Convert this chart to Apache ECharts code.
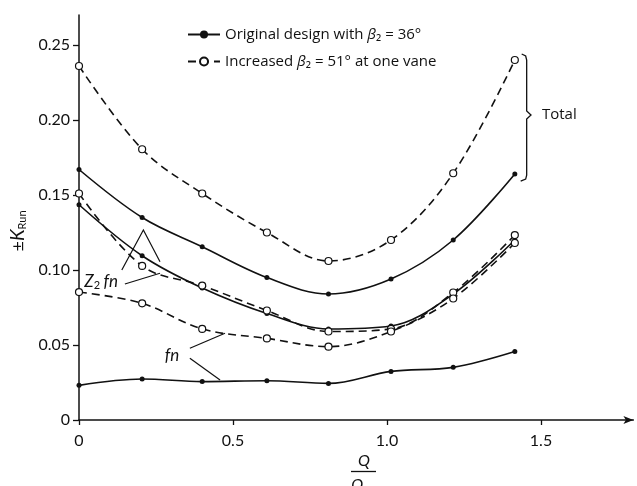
<!DOCTYPE html>
<html><head><meta charset="utf-8">
<script src="https://cdn.jsdelivr.net/npm/echarts@6/dist/echarts.min.js"></script>
<style>html,body{margin:0;padding:0;background:#fff}#c{width:637px;height:486px}</style>
</head><body><div id="c"></div>
<script>
// ---- data ----
const flowRatio      = [0, 0.205, 0.40, 0.61, 0.81, 1.013, 1.215, 1.415];
const totalOriginal  = [0.167, 0.135, 0.1155, 0.095, 0.084, 0.094, 0.120, 0.164];
const totalIncreased = [0.236, 0.1805, 0.151, 0.125, 0.106, 0.120, 0.1645, 0.240];
const z2fnOriginal   = [0.1435, 0.1095, 0.088, 0.071, 0.0607, 0.0627, 0.084, 0.120];
const z2fnIncreased  = [0.151, 0.1027, 0.0896, 0.073, 0.059, 0.0607, 0.085, 0.1233];
const fnOriginal     = [0.0231, 0.0273, 0.0256, 0.0262, 0.0244, 0.0324, 0.0351, 0.0456];
const fnIncreased    = [0.0853, 0.0778, 0.0607, 0.0544, 0.0489, 0.059, 0.081, 0.118];
const xTicks = [0, 0.5, 1.0, 1.5];
const yTicks = [0, 0.05, 0.10, 0.15, 0.20, 0.25];
const nameOriginal  = 'Original design with β₂ = 36°';
const nameIncreased = 'Increased β₂ = 51° at one vane';

const FONT = 'Lato';
const LFONT = 'Open Sans';
const INK = '#111';
const chart = echarts.init(document.getElementById('c'), null, {renderer: 'canvas'});

function mk(name, vals, dashed) {
  return {
    type: 'line', name: name,
    data: flowRatio.map((x, i) => [x, vals[i]]),
    smooth: 0.35,
    symbol: 'circle',
    symbolSize: dashed ? 7 : 5,
    showSymbol: true,
    lineStyle: {color: INK, width: 1.6, type: dashed ? [8, 5] : 'solid'},
    itemStyle: {color: dashed ? '#fff' : INK, borderColor: INK, borderWidth: dashed ? 1.2 : 0},
    emphasis: {disabled: true},
    z: dashed ? 3 : 2
  };
}

const legendFmt = n => n === nameOriginal
  ? '{n|Original design with }{i|β}{n|₂ = 36°}'
  : '{n|Increased }{i|β}{n|₂ = 51° at one vane}';

chart.setOption({
  animation: false,
  backgroundColor: '#fff',
  grid: {left: 79, right: 3.6, top: 15, bottom: 66, containLabel: false},
  legend: {
    data: [nameOriginal, nameIncreased],
    orient: 'vertical', left: 182, top: 22,
    itemWidth: 32, itemHeight: 10, itemGap: 12,
    selectedMode: false,
    formatter: legendFmt,
    textStyle: {
      color: INK, fontFamily: LFONT, fontSize: 15,
      rich: {
        n: {fontFamily: LFONT, fontSize: 15, color: INK},
        i: {fontFamily: LFONT, fontSize: 15, fontStyle: 'italic', color: INK}
      }
    }
  },
  xAxis: {
    type: 'value', min: 0, max: 1.8, interval: 0.5,
    axisLine: {lineStyle: {color: INK, width: 1.5}, symbol: ['none', 'arrow'], symbolSize: [6, 10]},
    axisTick: {length: 5, lineStyle: {color: INK, width: 1.3}, customValues: xTicks},
    axisLabel: {customValues: xTicks, margin: 13, color: INK, fontFamily: FONT, fontSize: 16,
      formatter: v => v === 0 ? '0' : v.toFixed(1)},
    splitLine: {show: false}
  },
  yAxis: {
    type: 'value', min: 0, max: 0.27, interval: 0.05,
    axisLine: {show: true, lineStyle: {color: INK, width: 1.5}},
    axisTick: {show: true, length: 6, lineStyle: {color: INK, width: 1.3}, customValues: yTicks},
    axisLabel: {customValues: yTicks, margin: 9, color: INK, fontFamily: FONT, fontSize: 16,
      formatter: v => v === 0 ? '0' : v.toFixed(2)},
    splitLine: {show: false}
  },
  series: [
    mk(nameOriginal, totalOriginal, false),
    mk(nameIncreased, totalIncreased, true),
    mk(nameOriginal, z2fnOriginal, false),
    mk(nameIncreased, z2fnIncreased, true),
    mk(nameOriginal, fnOriginal, false),
    mk(nameIncreased, fnIncreased, true)
  ]
});

// ---- annotations positioned in data coordinates ----
const P = (x, y) => chart.convertToPixel({gridIndex: 0}, [x, y]);
const lineEl = pts => ({type: 'polyline', shape: {points: pts.map(p => P(p[0], p[1]))},
  style: {stroke: INK, lineWidth: 1.2, fill: null}, silent: true});
const z2Lab = P(0.072, 0.092);
const fnLab = P(0.302, 0.0433);
const totLab = P(1.503, 0.2033);
const xb = P(1.4535, 0)[0], tip = P(1.4675, 0.2033);
const yTop = P(0, 0.242)[1], yBot = P(0, 0.1613)[1];
const brace = [[xb - 5, yTop - 3], [xb - 1, yTop - 1], [xb, yTop + 3], [xb, tip[1] - 4], [tip[0], tip[1]],
  [xb, tip[1] + 4], [xb, yBot - 3], [xb - 1, yBot + 1], [xb - 6, yBot + 3]];

chart.setOption({
  graphic: [
    lineEl([[0.139, 0.100], [0.209, 0.1267], [0.263, 0.1055]]),
    lineEl([[0.149, 0.0907], [0.263, 0.0978]]),
    lineEl([[0.360, 0.0478], [0.474, 0.0578]]),
    lineEl([[0.360, 0.0411], [0.458, 0.0267]]),
    {type: 'polyline', shape: {points: brace}, style: {stroke: INK, lineWidth: 1.3, fill: null}, silent: true},
    {type: 'text', x: z2Lab[0], y: z2Lab[1], silent: true,
      style: {text: '{i|Z}{s|2} {i|fn}', align: 'center', verticalAlign: 'middle',
        rich: {i: {fontFamily: FONT, fontSize: 17, fontStyle: 'italic', fill: INK, lineHeight: 18},
               s: {fontFamily: FONT, fontSize: 11, fill: INK, lineHeight: 10, verticalAlign: 'bottom'}}}},
    {type: 'text', x: fnLab[0], y: fnLab[1], silent: true,
      style: {text: 'fn', font: 'italic 17px ' + FONT, fill: INK, align: 'center', verticalAlign: 'middle'}},
    {type: 'text', x: totLab[0], y: totLab[1], silent: true,
      style: {text: 'Total', font: '15px ' + LFONT, fill: INK, align: 'left', verticalAlign: 'middle'}},
    {type: 'text', x: 18, y: 231, rotation: Math.PI / 2, silent: true,
      style: {text: '{n|±}{i|K}{s|Run}', align: 'center', verticalAlign: 'middle',
        rich: {n: {fontFamily: FONT, fontSize: 18, fill: INK, lineHeight: 20},
               i: {fontFamily: FONT, fontSize: 19, fontStyle: 'italic', fill: INK, lineHeight: 20},
               s: {fontFamily: FONT, fontSize: 11, fill: INK, lineHeight: 11, verticalAlign: 'bottom'}}}},
    {type: 'text', x: 364, y: 461, silent: true,
      style: {text: 'Q', font: 'italic 16px ' + FONT, fill: INK, align: 'center', verticalAlign: 'middle'}},
    {type: 'line', shape: {x1: 351, y1: 471.5, x2: 376, y2: 471.5}, style: {stroke: INK, lineWidth: 1.3}, silent: true},
    {type: 'text', x: 363, y: 476, silent: true,
      style: {text: '{i|Q}{s|oo}', align: 'center', verticalAlign: 'top',
        rich: {i: {fontFamily: FONT, fontSize: 16, fontStyle: 'italic', fill: INK, lineHeight: 17},
               s: {fontFamily: FONT, fontSize: 10, fill: INK, lineHeight: 9, verticalAlign: 'bottom'}}}}
  ]
});
</script></body></html>
